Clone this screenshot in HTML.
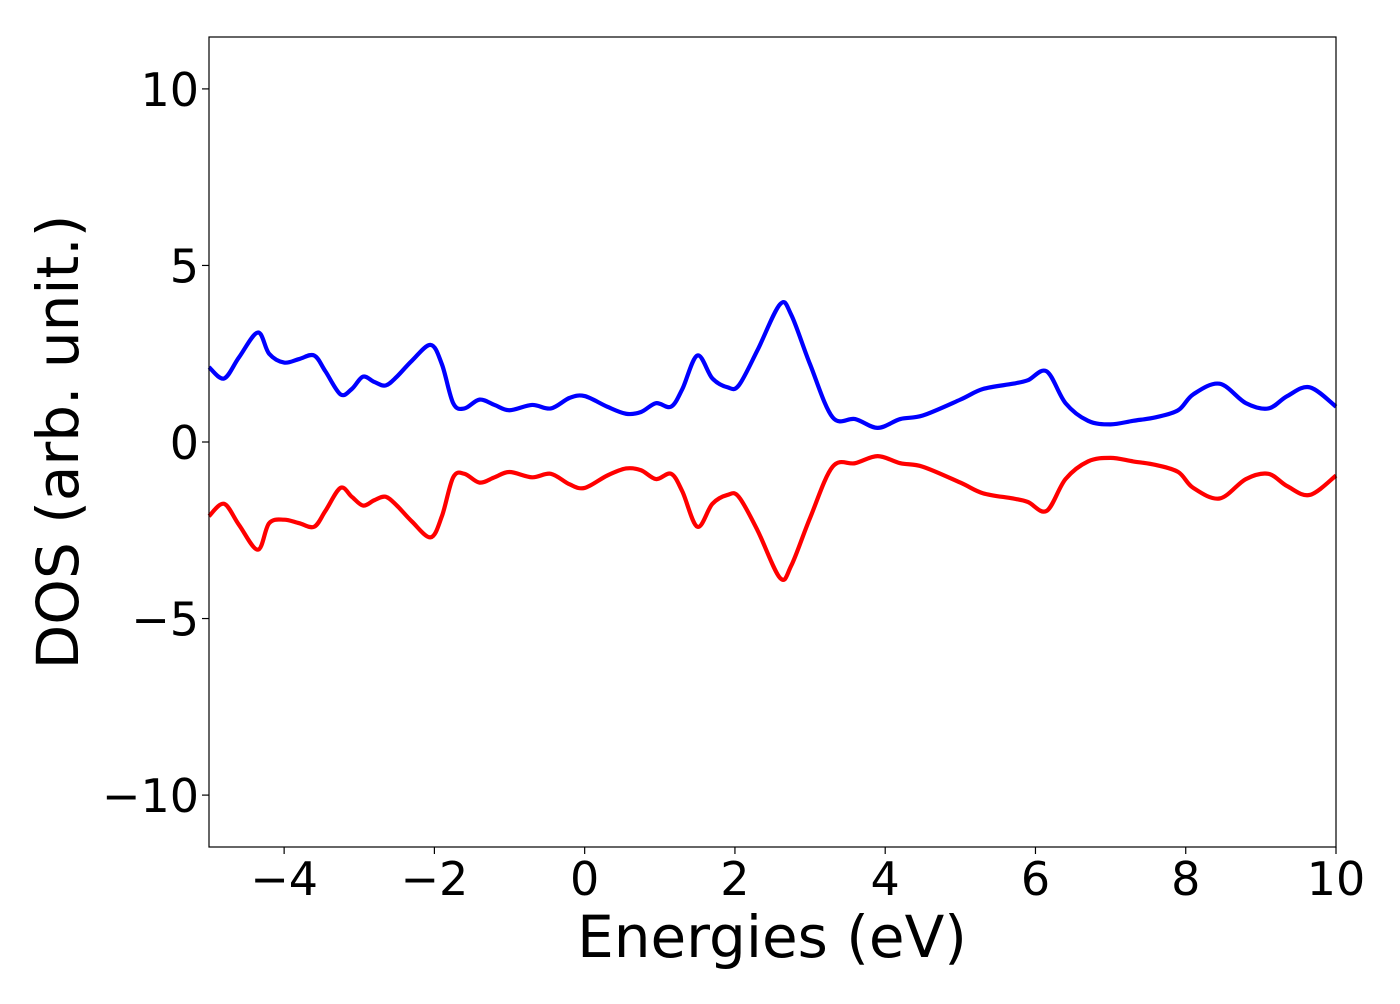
<!DOCTYPE html>
<html><head><meta charset="utf-8"><style>
body{margin:0;background:#fff;width:1400px;height:1000px;overflow:hidden;font-family:"DejaVu Sans","Liberation Sans",sans-serif}
</style></head><body>
<svg id="chart" width="1400" height="1000" xmlns="http://www.w3.org/2000/svg" font-family="DejaVu Sans, Liberation Sans, sans-serif">
<g id="plot"></g>
<g id="axes"></g>
</svg>
<script>
const energies = [-5,-4.8,-4.6,-4.35,-4.2,-4.0,-3.8,-3.6,-3.45,-3.25,-3.1,-2.95,-2.8,-2.65,-2.5,-2.3,-2.05,-1.9,-1.75,-1.6,-1.4,-1.2,-1.0,-0.7,-0.45,-0.2,0.0,0.3,0.55,0.75,0.95,1.15,1.3,1.5,1.7,1.9,2.05,2.3,2.6,2.75,3.0,3.3,3.6,3.9,4.2,4.5,5.0,5.3,5.7,5.9,6.15,6.4,6.7,7.0,7.3,7.6,7.9,8.1,8.45,8.8,9.1,9.35,9.65,10.0];
const dosUp = [2.12,1.8,2.4,3.1,2.5,2.25,2.35,2.45,2.0,1.35,1.5,1.85,1.7,1.6,1.85,2.3,2.75,2.2,1.1,0.95,1.2,1.05,0.9,1.05,0.95,1.25,1.3,1.0,0.8,0.85,1.1,1.0,1.5,2.45,1.8,1.55,1.6,2.6,3.9,3.6,2.2,0.7,0.65,0.4,0.65,0.75,1.2,1.5,1.65,1.75,2.0,1.1,0.6,0.5,0.6,0.7,0.9,1.35,1.65,1.1,0.95,1.3,1.55,1.0];
const dosDown = [-2.1,-1.75,-2.35,-3.05,-2.3,-2.2,-2.3,-2.4,-1.95,-1.3,-1.55,-1.8,-1.65,-1.55,-1.8,-2.25,-2.7,-2.1,-1.0,-0.9,-1.15,-1.0,-0.85,-1.0,-0.9,-1.2,-1.3,-0.95,-0.75,-0.8,-1.05,-0.9,-1.4,-2.4,-1.75,-1.5,-1.55,-2.5,-3.85,-3.5,-2.15,-0.7,-0.6,-0.4,-0.6,-0.7,-1.15,-1.45,-1.6,-1.7,-1.95,-1.05,-0.55,-0.45,-0.55,-0.65,-0.85,-1.3,-1.6,-1.05,-0.9,-1.25,-1.5,-0.95];
const xTicks = [-4,-2,0,2,4,6,8,10];
const yTicks = [-10,-5,0,5,10];
const xTickLabels = ["\u22124","\u22122","0","2","4","6","8","10"];
const yTickLabels = ["\u221210","\u22125","0","5","10"];

const L=209,R=1336,T=37,B=847;
const xMin=-5,xMax=10,yMin=-11.47,yMax=11.47;
const sx=v=>L+(v-xMin)/(xMax-xMin)*(R-L);
const sy=v=>B-(v-yMin)/(yMax-yMin)*(B-T);
const NS="http://www.w3.org/2000/svg";
const plot=document.getElementById('plot'), axes=document.getElementById('axes');
function mk(tag,attrs,parent){const e=document.createElementNS(NS,tag);for(const k in attrs)e.setAttribute(k,attrs[k]);parent.appendChild(e);return e;}
function smooth(xs,ys){
  const p=xs.map((x,i)=>[sx(x),sy(ys[i])]);
  let d=`M${p[0][0]},${p[0][1]}`;
  for(let i=0;i<p.length-1;i++){
    const p0=p[Math.max(0,i-1)],p1=p[i],p2=p[i+1],p3=p[Math.min(p.length-1,i+2)];
    const c1=[p1[0]+(p2[0]-p0[0])/6,p1[1]+(p2[1]-p0[1])/6];
    const c2=[p2[0]-(p3[0]-p1[0])/6,p2[1]-(p3[1]-p1[1])/6];
    d+=`C${c1[0]},${c1[1]} ${c2[0]},${c2[1]} ${p2[0]},${p2[1]}`;
  }
  return d;
}
const up=mk('path',{d:smooth(energies,dosUp),fill:'none',stroke:'#0000ff','stroke-width':4.2,'stroke-linejoin':'round'},plot);


const dn=mk('path',{d:smooth(energies,dosDown),fill:'none',stroke:'#ff0000','stroke-width':4.2,'stroke-linejoin':'round'},plot);



const frame=mk('rect',{x:L,y:T,width:R-L,height:B-T,fill:'none',stroke:'#000','stroke-width':1.2},axes);


xTicks.forEach((v,i)=>{
  const x=sx(v);
  mk('line',{x1:x,x2:x,y1:B,y2:B+7,stroke:'#000','stroke-width':1.2},axes);
  const t=mk('text',{x:x,y:B+48,'font-size':46,'text-anchor':'middle',fill:'#000'},axes);
  t.textContent=xTickLabels[i];
  
  
});
yTicks.forEach((v,i)=>{
  const y=sy(v);
  mk('line',{x1:L-7,x2:L,y1:y,y2:y,stroke:'#000','stroke-width':1.2},axes);
  const t=mk('text',{x:L-10,y:y+17,'font-size':46,'text-anchor':'end',fill:'#000'},axes);
  t.textContent=yTickLabels[i];
  
  
});
const xt=mk('text',{x:772,y:957,'font-size':58,'text-anchor':'middle',fill:'#000'},axes);
xt.textContent='Energies (eV)';


const yt=mk('text',{x:0,y:0,'font-size':58,'text-anchor':'middle',fill:'#000',transform:`translate(78,${(T+B)/2}) rotate(-90)`},axes);
yt.textContent='DOS (arb. unit.)';


</script>
</body></html>
